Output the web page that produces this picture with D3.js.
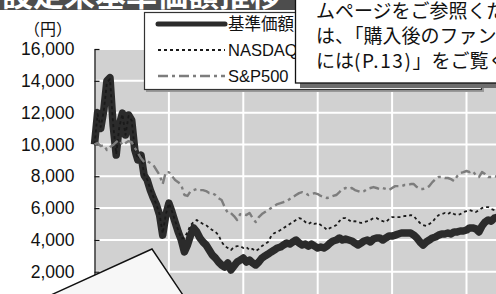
<!DOCTYPE html>
<html>
<head>
<meta charset="utf-8">
<script src="https://cdn.jsdelivr.net/npm/d3@7"></script>
<style>
body { margin: 0; background: #fff; overflow: hidden; }
svg { display: block; font-family: "Liberation Sans", Arial, "Noto Sans CJK JP", sans-serif; }
</style>
</head>
<body>
<svg id="chart" width="496" height="294"></svg>
<script>
// values every half month since launch (yen)
const baseNav = [
	10000, 12000, 11000, 12150, 14000, 14200, 11220, 9330, 11220, 11970,
	10590, 11850, 11530, 9650, 9020, 9330, 8070, 7760, 7130, 6630,
	6190, 5560, 4300, 5560, 6310, 5750, 5120, 4500, 3990, 3240,
	3680, 4300, 4750, 4500, 4120, 3870, 3680, 3360, 3050, 2860,
	2610, 2420, 2290, 2550, 2100, 2360, 2610, 2730, 2860, 2610,
	2730, 2550, 2420, 2610, 2860, 2990, 3110, 3240, 3360, 3490,
	3550, 3680, 3800, 3740, 3870, 3990, 3800, 3680, 3740, 3610,
	3740, 3610, 3490, 3550, 3490, 3610, 3800, 3930, 3990, 4120,
	3990, 4050, 3990, 3930, 3800, 3680, 3800, 3930, 3990, 3870,
	4050, 4120, 4120, 3990, 4120, 4240, 4240, 4300, 4370, 4430,
	4430, 4430, 4430, 4300, 4120, 3870, 3680, 3870, 3990, 4120,
	4180, 4300, 4370, 4370, 4430, 4370, 4500, 4500, 4560, 4560,
	4620, 4750, 4750, 4690, 4500, 4870, 5120, 5250, 5180, 5370,
	5430
];
const nasdaq = [
	10000, 11900, 11100, 12100, 13900, 14100, 11300, 9400, 11100, 11900,
	10600, 11800, 11500, 9700, 9100, 9400, 8100, 7800, 7200, 6700,
	6200, 5600, 4400, 5600, 6300, 5800, 5200, 4600, 4100, 4120,
	4500, 4930, 5120, 5250, 5120, 5000, 4930, 4750, 4620, 4500,
	4300, 3870, 3610, 3490, 3360, 3550, 3610, 3610, 3490, 3550,
	3360, 3430, 3300, 3430, 3610, 3740, 3870, 4240, 4430, 4500,
	4620, 4750, 4870, 5000, 5120, 5250, 5370, 5310, 5120, 5000,
	5120, 5000, 5060, 4930, 4810, 4620, 4750, 4810, 4930, 5180,
	5370, 5370, 5250, 5120, 5180, 5120, 5060, 5120, 5180, 5250,
	5370, 5370, 5250, 5180, 5120, 5310, 5430, 5430, 5430, 5430,
	5500, 5500, 5560, 5500, 5250, 5060, 4930, 4870, 5000, 5120,
	5370, 5560, 5620, 5690, 5620, 5750, 5620, 5560, 5620, 5750,
	5810, 5870, 5810, 5750, 5870, 6000, 6060, 6060, 5940, 5870,
	5940
];
const sp500 = [
	10000, 10090, 9900, 9960, 9650, 9840, 9960, 10150, 10280, 9960,
	10090, 10210, 10150, 9780, 9460, 9140, 8890, 8950, 8830, 8700,
	8390, 8070, 7510, 8260, 8260, 8010, 7760, 7630, 7450, 6820,
	6760, 7070, 7130, 7200, 7130, 7130, 7070, 6940, 6940, 6820,
	6630, 6500, 6060, 5690, 5690, 5500, 5250, 5620, 5620, 5560,
	5690, 5370, 5120, 5430, 5620, 5750, 5870, 6000, 6120, 6250,
	6310, 6380, 6440, 6570, 6690, 6820, 6940, 7000, 6940, 6820,
	6880, 6940, 6880, 6760, 6690, 6630, 6690, 6760, 6820, 7000,
	7200, 7260, 7200, 7260, 7130, 7070, 7000, 7070, 7200, 7260,
	7320, 7260, 7200, 7260, 7200, 7130, 7260, 7380, 7380, 7380,
	7450, 7450, 7510, 7510, 7320, 7200, 7200, 7260, 7380, 7630,
	7820, 7950, 7950, 7890, 7890, 7820, 7700, 8010, 8200, 8260,
	8330, 8260, 8330, 8070, 7950, 8260, 8140, 7950, 7950, 8010,
	7950
];
const seriesNames = ["基準価額", "NASDAQ", "S&P500"];
const yTicks = [2000, 4000, 6000, 8000, 10000, 12000, 14000, 16000];
const xGridSteps = [24, 48, 72, 96, 120];
const unitLabel = "（円）";
const title = "設定来基準価額推移";
// each note line split into pieces; the page reference is spaced out
const noteLines = [
	[["ムページをご参照ください。また、", 0]],
	[["は、「購入後のファンドの運用状況", 0]],
	[["には", 0], ["(P.13)", 1.6], ["」をご覧ください。", 0]]
];

const svg = d3.select("#chart");

// scales
const x = d3.scaleLinear().domain([0, 144]).range([94.5, 540.9]);
const y = d3.scaleLinear().domain([0, 16000]).range([303.5, 49]);

// title bar (only its lower edge is in the picture)
svg.append("clipPath")
	.attr("id", "title-clip")
	.append("rect")
	.attr("x", 0).attr("y", 0)
	.attr("width", 296).attr("height", 10);
const titleBar = svg.append("g").attr("clip-path", "url(#title-clip)");
titleBar.append("rect")
	.attr("x", 0).attr("y", 0)
	.attr("width", 296).attr("height", 10)
	.attr("fill", "#4d4d4d");
titleBar.append("text")
	.attr("x", 2).attr("y", 6)
	.attr("font-family", "Noto Sans CJK JP")
	.attr("font-size", 31)
	.attr("font-weight", "bold")
	.attr("fill", "#fff")
	.text(title);

// plot area
svg.append("rect")
	.attr("x", x(0)).attr("y", y(16000))
	.attr("width", x(144) - x(0)).attr("height", y(0) - y(16000))
	.attr("fill", "#d1d1d1");

// gridlines
svg.append("g")
	.selectAll("line")
	.data(yTicks)
	.join("line")
	.attr("x1", x(0)).attr("x2", x(144))
	.attr("y1", d => y(d)).attr("y2", d => y(d))
	.attr("stroke", "#fff")
	.attr("stroke-width", 2);
svg.append("g")
	.selectAll("line")
	.data(xGridSteps)
	.join("line")
	.attr("x1", d => x(d)).attr("x2", d => x(d))
	.attr("y1", y(16000)).attr("y2", y(0))
	.attr("stroke", "#fff")
	.attr("stroke-width", 2);

// y axis
const yAxis = svg.append("g")
	.attr("transform", `translate(${x(0)},0)`)
	.call(d3.axisLeft(y)
		.tickValues(yTicks)
		.tickSizeInner(-5)
		.tickSizeOuter(0)
		.tickPadding(20)
		.tickFormat(d3.format(",")));
yAxis.select(".domain").attr("stroke", "#111").attr("stroke-width", 1.2);
yAxis.selectAll(".tick line").attr("stroke", "#111").attr("stroke-width", 1.2);
yAxis.selectAll(".tick text")
	.attr("font-family", "Liberation Sans, Arial, sans-serif")
	.attr("font-size", 17.5)
	.attr("fill", "#111");

svg.append("text")
	.attr("x", 48).attr("y", 35)
	.attr("text-anchor", "middle")
	.attr("font-family", "Noto Sans CJK JP")
	.attr("font-size", 16)
	.attr("fill", "#111")
	.text(unitLabel);

// series
const line = d3.line()
	.x((d, i) => x(i))
	.y(d => y(d));

const styles = [
	{ data: baseNav, stroke: "#2b2b2b", width: 7.5, dash: null },
	{ data: nasdaq, stroke: "#1a1a1a", width: 1.8, dash: "3,3" },
	{ data: sp500, stroke: "#7d7d7d", width: 2.4, dash: "10,4,3,4" }
];

styles.forEach(s => {
	svg.append("path")
		.datum(s.data)
		.attr("d", line)
		.attr("fill", "none")
		.attr("stroke", s.stroke)
		.attr("stroke-width", s.width)
		.attr("stroke-linejoin", "round")
		.attr("stroke-dasharray", s.dash);
});

// legend
const legend = svg.append("g");
legend.append("rect")
	.attr("x", 146).attr("y", 14)
	.attr("width", 338).attr("height", 78)
	.attr("fill", "#999");
legend.append("rect")
	.attr("x", 144.5).attr("y", 12.5)
	.attr("width", 337).attr("height", 77)
	.attr("fill", "#fff")
	.attr("stroke", "#333")
	.attr("stroke-width", 1.2);

const legendY = d3.scalePoint().domain(seriesNames).range([24, 76]);
seriesNames.forEach((name, i) => {
	const s = styles[i];
	legend.append("line")
		.attr("x1", 158).attr("x2", 225)
		.attr("y1", legendY(name)).attr("y2", legendY(name))
		.attr("stroke", s.stroke)
		.attr("stroke-width", i === 0 ? 5 : s.width)
		.attr("stroke-linecap", i === 0 ? "round" : "butt")
		.attr("stroke-dasharray", s.dash);
	legend.append("text")
		.attr("x", 228).attr("y", legendY(name))
		.attr("dy", "0.36em")
		.attr("font-size", 16.5)
		.attr("fill", "#111")
		.text(name);
});

// note box, top right
const note = svg.append("g");
note.append("rect")
	.attr("x", 300).attr("y", -20)
	.attr("width", 220).attr("height", 108)
	.attr("fill", "#6e6e6e");
note.append("rect")
	.attr("x", 295.5).attr("y", -20)
	.attr("width", 220).attr("height", 103)
	.attr("fill", "#fff")
	.attr("stroke", "#111")
	.attr("stroke-width", 1.3);
note.selectAll("text")
	.data(noteLines)
	.join("text")
	.attr("x", 316)
	.attr("y", (d, i) => 11 + i * 25)
	.attr("dy", "0.36em")
	.attr("font-family", "Noto Sans CJK JP")
	.attr("font-size", 19)
	.attr("fill", "#111")
	.selectAll("tspan")
	.data(d => d)
	.join("tspan")
	.attr("letter-spacing", d => d[1])
	.text(d => d[0]);

// callout, bottom left
svg.append("polygon")
	.attr("points", "152,249 193,310 18,310")
	.attr("fill", "#f7f7f7")
	.attr("stroke", "#111")
	.attr("stroke-width", 1.4);
</script>
</body>
</html>
